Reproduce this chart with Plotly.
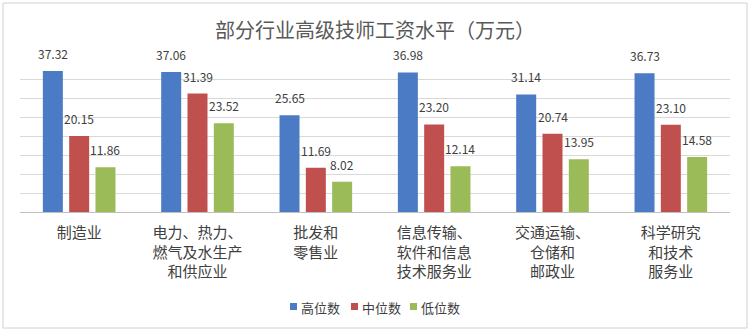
import plotly.graph_objects as go

categories = ["制造业", "电力、热力、<br>燃气及水生产<br>和供应业", "批发和<br>零售业",
              "信息传输、<br>软件和信息<br>技术服务业", "交通运输、<br>仓储和<br>邮政业", "科学研究<br>和技术<br>服务业"]
series_names = ["高位数", "中位数", "低位数"]
high = [37.32, 37.06, 25.65, 36.98, 31.14, 36.73]
mid = [20.15, 31.39, 11.69, 23.20, 20.74, 23.10]
low = [11.86, 23.52, 8.02, 12.14, 13.95, 14.58]
colors = ["#4a7bc4", "#c0504d", "#9bbb59"]

FONT = "Noto Sans CJK SC"
L, R, T, B, W, H = 20, 20, 61, 119, 750, 331
PW, PH = W - L - R, H - T - B


def px(x):
    return (x - L) / PW


def py(y):
    return (H - B - y) / PH


fig = go.Figure()
all_vals = [high, mid, low]
xs = list(range(len(categories)))
for name, vals, c in zip(series_names, all_vals, colors):
    fig.add_trace(go.Bar(x=xs, y=vals, name=name, marker_color=c, marker_line_width=0))

annotations = []
slot = 26.3
for i, vals in enumerate(all_vals):
    for xi, v in zip(xs, vals):
        annotations.append(dict(x=xi, y=v, xref="x", yref="y", text=f"{v:.2f}",
                                showarrow=False, xshift=(i - 1) * slot, yshift=7,
                                yanchor="bottom", font=dict(size=12, color="#404040", family=FONT)))

shapes = [dict(type="rect", xref="paper", yref="paper",
               x0=px(3), x1=px(747), y0=py(328), y1=py(3),
               line=dict(color="#d0d0d0", width=1), layer="below")]

# custom compact legend
leg_x = [290, 351, 410]
for lx, name, c in zip(leg_x, series_names, colors):
    shapes.append(dict(type="rect", xref="paper", yref="paper",
                       x0=px(lx), x1=px(lx + 7), y0=py(310), y1=py(303),
                       fillcolor=c, line=dict(width=0)))
    annotations.append(dict(x=px(lx + 9), y=py(307), xref="paper", yref="paper", text=name,
                            showarrow=False, xanchor="left", yanchor="middle",
                            font=dict(size=13, color="#404040", family=FONT)))

fig.update_layout(
    width=W, height=H,
    margin=dict(l=L, r=R, t=T, b=B),
    paper_bgcolor="white", plot_bgcolor="white",
    barmode="group", bargap=0.333, bargroupgap=0.24,
    title=dict(text="部分行业高级技师工资水平（万元）", x=0.5, xanchor="center", y=1 - 31 / 331,
               yanchor="middle", font=dict(size=20, color="#595959", family=FONT)),
    font=dict(family=FONT, color="#404040"),
    showlegend=False,
    xaxis=dict(tickmode="array", tickvals=xs, ticktext=categories, showgrid=False,
               showline=True, linecolor="#bfbfbf", linewidth=1, ticks="",
               tickfont=dict(size=15, color="#404040", family=FONT), ticklabelstandoff=7,
               range=[-0.5, len(categories) - 0.5]),
    yaxis=dict(range=[0, 40], dtick=5, showticklabels=False, showgrid=True,
               gridcolor="#d9d9d9", gridwidth=1, zeroline=False, ticks=""),
    annotations=annotations,
    shapes=shapes,
)
fig.write_html("out.html")
